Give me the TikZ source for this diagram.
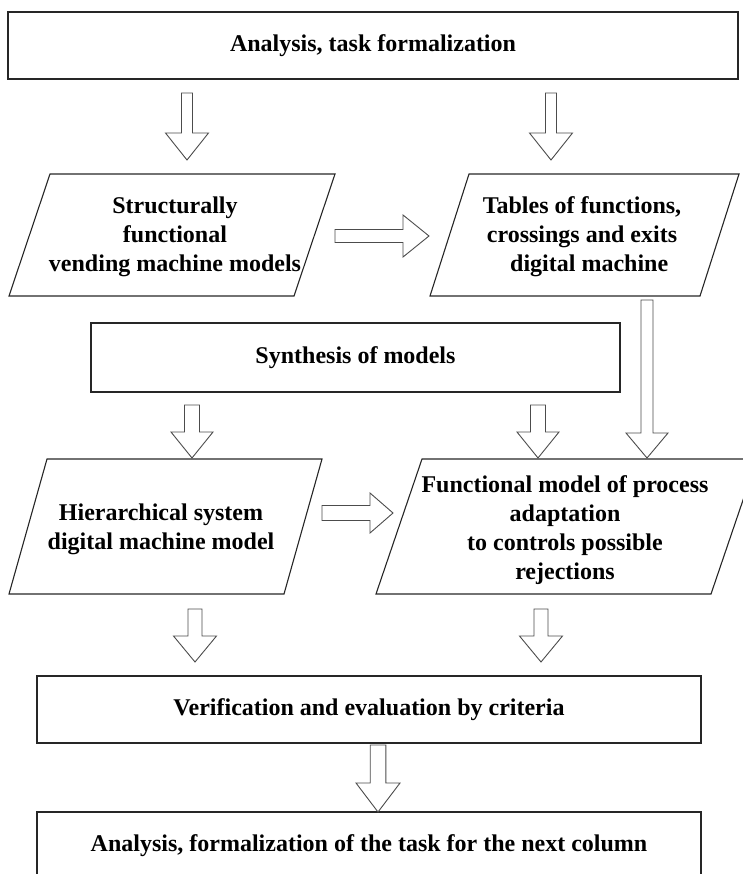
\documentclass[tikz,border=0pt]{standalone}
\usepackage{fontspec}
\setmainfont{Liberation Serif}
\usetikzlibrary{calc}
\tikzset{
  boxnode/.style={draw=black!85, line width=1.1pt, rectangle, inner sep=0pt,
    font=\fontsize{24}{29}\selectfont\bfseries, align=center},
  para/.style={draw=black!85, line width=1.1pt, line join=miter},
  lbl/.style={font=\fontsize{24}{29}\selectfont\bfseries, align=center, inner sep=0pt},
  blk/.style={draw=black!70, line width=0.9pt, fill=white, line join=miter},
}
% block arrow pointing down: start, end, shaft half width, head half width, head length
\newcommand\blkdown[5]{%
  \draw[blk] let \p1=(#1), \p2=(#2) in
    (\x1-#3,\y1) -- (\x1-#3,\y2+#5) -- (\x1-#4,\y2+#5) -- (\x2,\y2)
    -- (\x1+#4,\y2+#5) -- (\x1+#3,\y2+#5) -- (\x1+#3,\y1) -- cycle;}
% block arrow pointing right
\newcommand\blkright[5]{%
  \draw[blk] let \p1=(#1), \p2=(#2) in
    (\x1,\y1+#3) -- (\x2-#5,\y1+#3) -- (\x2-#5,\y1+#4) -- (\x2,\y2)
    -- (\x2-#5,\y1-#4) -- (\x2-#5,\y1-#3) -- (\x1,\y1-#3) -- cycle;}
\begin{document}
\begin{tikzpicture}[x=1pt,y=-1pt]
\useasboundingbox (0,0) rectangle (743,874);
\path[clip] (0,0) rectangle (743,874);

% rectangular boxes
\node[boxnode, minimum width=730pt, minimum height=67pt] (top) at (373,45.5) {Analysis, task formalization};
\node[boxnode, minimum width=529pt, minimum height=69pt] (syn) at (355.5,357.5) {Synthesis of models};
\node[boxnode, minimum width=664pt, minimum height=67pt] (ver) at (369,709.5) {Verification and evaluation by criteria};
\node[boxnode, minimum width=664pt, minimum height=68pt] (bot) at (369,846) {Analysis, formalization of the task for the next column};

% parallelograms
\draw[para] (50,174) -- (335,174) -- (294,296) -- (9,296) -- cycle;
\node[lbl] (p1) at (175,237) {Structurally\\functional\\vending machine models};

\draw[para] (469,174) -- (739,174) -- (700,296) -- (430,296) -- cycle;
\node[lbl] (p2) at (582,237) {Tables of functions,\\crossings and exits\\\hspace*{0.6em}digital machine};

\draw[para] (47,459) -- (322,459) -- (284,594) -- (9,594) -- cycle;
\node[lbl] (p3) at (161,529) {Hierarchical system\\digital machine model};

\draw[para] (422,459) -- (757,459) -- (711,594) -- (376,594) -- cycle;
\node[lbl] (p4) at (565,530) {Functional model of process\\adaptation\\to controls possible\\rejections};

% arrow end points
\coordinate (a1s) at (187,93);  \coordinate (a1e) at (187,160);
\coordinate (a2s) at (551,93);  \coordinate (a2e) at (551,160);
\coordinate (a3s) at (335,236); \coordinate (a3e) at (429,236);
\coordinate (a4s) at (647,300); \coordinate (a4e) at (647,458);
\coordinate (a5s) at (192,405); \coordinate (a5e) at (192,458);
\coordinate (a6s) at (538,405); \coordinate (a6e) at (538,458);
\coordinate (a7s) at (322,513); \coordinate (a7e) at (393,513);
\coordinate (a8s) at (195,609); \coordinate (a8e) at (195,662);
\coordinate (a9s) at (541,609); \coordinate (a9e) at (541,662);
\coordinate (a10s) at (378,745); \coordinate (a10e) at (378,812);

% block arrows
\blkdown{a1s}{a1e}{5.5pt}{21.5pt}{27pt}
\blkdown{a2s}{a2e}{5.5pt}{21.5pt}{27pt}
\blkright{a3s}{a3e}{6.5pt}{21pt}{26pt}
\blkdown{a4s}{a4e}{6pt}{21pt}{25pt}
\blkdown{a5s}{a5e}{7.5pt}{21pt}{26pt}
\blkdown{a6s}{a6e}{7.5pt}{21pt}{26pt}
\blkright{a7s}{a7e}{7.5pt}{20pt}{23pt}
\blkdown{a8s}{a8e}{7pt}{21.5pt}{26pt}
\blkdown{a9s}{a9e}{7pt}{21.5pt}{26pt}
\blkdown{a10s}{a10e}{7.8pt}{22pt}{29pt}
\end{tikzpicture}
\end{document}
